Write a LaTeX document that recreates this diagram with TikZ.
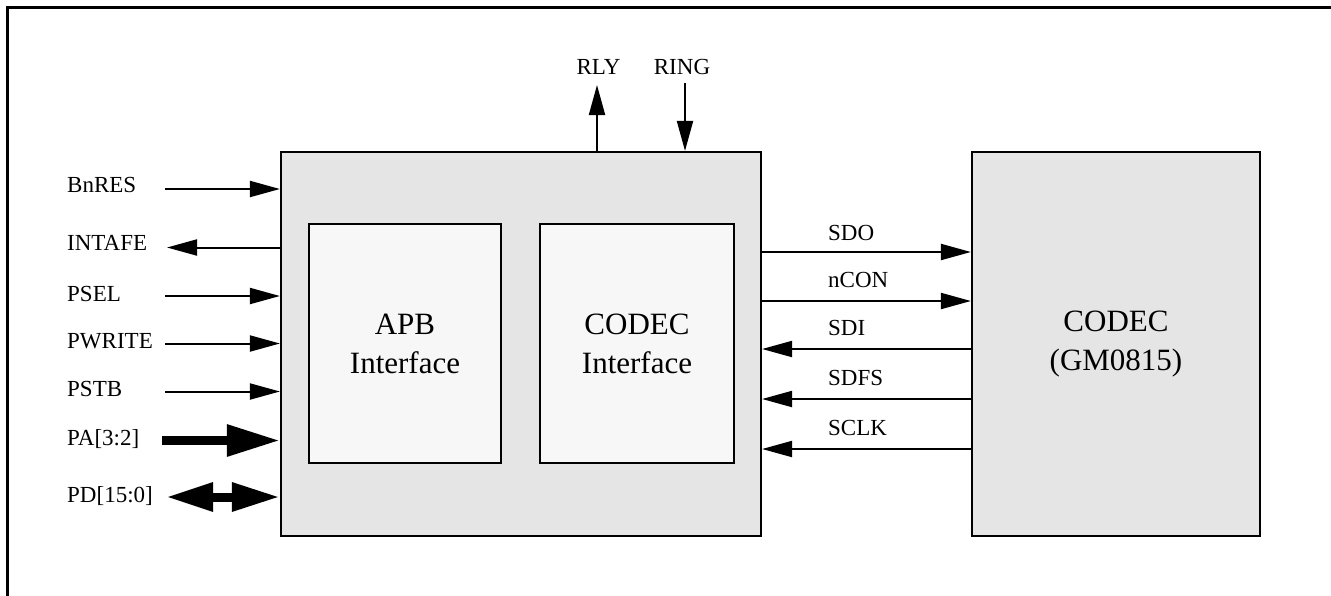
\documentclass[tikz,border=0pt]{standalone}
\usepackage{fontspec}
\setmainfont{Liberation Serif}
\usetikzlibrary{arrows.meta}
\definecolor{blockgray}{HTML}{E5E5E5}
\definecolor{innergray}{HTML}{F7F7F7}
\begin{document}
\begin{tikzpicture}[x=1pt,y=-1pt,
  block/.style={draw=black, line width=2.2pt, fill=blockgray, inner sep=0pt, align=center,
    font=\fontsize{31}{39}\selectfont},
  inner/.style={block, fill=innergray},
  sig/.style={line width=2pt, -{Triangle[length=30pt,width=16pt]}},
  bus/.style={line width=9pt, -{Triangle[length=53pt,width=30pt]}},
  bibus/.style={line width=9pt, {Triangle[length=47pt,width=27pt]}-{Triangle[length=48pt,width=27pt]}},
  lbl/.style={inner sep=0pt, font=\fontsize{23}{27}\selectfont},
]
\useasboundingbox (0,0) rectangle (1331,595);
\fill[white] (0,0) rectangle (1331,595);
% outer frame (only top and left edges visible)
\draw[line width=2.7pt] (7.5,600) -- (7.5,7.5) -- (1340,7.5);

% blocks
\node[block, minimum width=480pt, minimum height=384pt] (main) at (521,344) {};
\node[inner, minimum width=192pt, minimum height=239pt] (apb) at (405,343.5) {APB\\Interface};
\node[inner, minimum width=194pt, minimum height=239pt] (cif) at (637,343.5) {CODEC\\Interface};
\node[block, minimum width=288pt, minimum height=384pt] (codec) at (1116,344) {CODEC\\(GM0815)};

% left side signals
\coordinate (bnres) at (165,189);
\coordinate (intafe) at (167,247.5);
\coordinate (psel) at (165,296);
\coordinate (pwrite) at (165,343.5);
\coordinate (pstb) at (165,391.5);
\coordinate (pa) at (162,440.5);
\coordinate (pd) at (166,497);

\draw[sig] (bnres) -- (main.west |- bnres);
\draw[sig] (main.west |- intafe) -- (intafe);
\draw[sig] (psel) -- (main.west |- psel);
\draw[sig] (pwrite) -- (main.west |- pwrite);
\draw[sig] (pstb) -- (main.west |- pstb);
\draw[bus] (pa) -- (main.west |- pa);
\draw[bibus] (pd) -- (main.west |- pd);

\node[lbl, anchor=base west] (lbnres) at (67,192) {BnRES};
\node[lbl, anchor=base west] (lintafe) at (67,250) {INTAFE};
\node[lbl, anchor=base west] (lpsel) at (67,301) {PSEL};
\node[lbl, anchor=base west] (lpwrite) at (67,348) {PWRITE};
\node[lbl, anchor=base west] (lpstb) at (67,396.5) {PSTB};
\node[lbl, anchor=base west] (lpa) at (67,445.5) {PA[3:2]};
\node[lbl, anchor=base west] (lpd) at (67,502) {PD[15:0]};

% top signals
\coordinate (rly) at (597,85);
\coordinate (ring) at (685,83);
\draw[sig] (main.north -| rly) -- (rly);
\draw[sig] (ring) -- (main.north -| ring);
\node[lbl, anchor=base] (lrly) at (598.5,74) {RLY};
\node[lbl, anchor=base] (lring) at (682,74) {RING};

% right side signals
\coordinate (sdo) at (828,252);
\coordinate (ncon) at (828,301);
\coordinate (sdi) at (828,349);
\coordinate (sdfs) at (828,399);
\coordinate (sclk) at (828,449);
\draw[sig] (main.east |- sdo) -- (codec.west |- sdo);
\draw[sig] (main.east |- ncon) -- (codec.west |- ncon);
\draw[sig] (codec.west |- sdi) -- (main.east |- sdi);
\draw[sig] (codec.west |- sdfs) -- (main.east |- sdfs);
\draw[sig] (codec.west |- sclk) -- (main.east |- sclk);
\node[lbl, anchor=base west] (lsdo) at (828,240) {SDO};
\node[lbl, anchor=base west] (lncon) at (828,287) {nCON};
\node[lbl, anchor=base west] (lsdi) at (828,335) {SDI};
\node[lbl, anchor=base west] (lsdfs) at (828,385.5) {SDFS};
\node[lbl, anchor=base west] (lsclk) at (828,435.5) {SCLK};
\end{tikzpicture}
\end{document}
